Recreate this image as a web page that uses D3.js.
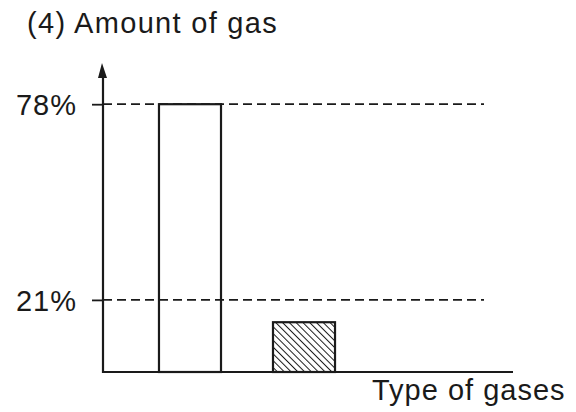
<!DOCTYPE html>
<html>
<head>
<meta charset="utf-8">
<script src="https://cdn.jsdelivr.net/npm/d3@7"></script>
<style>
  body { margin: 0; background: #fff; }
  text { font-family: "Liberation Sans", Arial, sans-serif; fill: #1a1a1a; }
</style>
</head>
<body>
<div id="chart"></div>
<script>
// chart values
const gases = ["Nitrogen", "Oxygen"];
const amounts = [78, 14.5];
const refLevels = [78, 21];
const refLabels = ["78%", "21%"];

const W = 576, H = 412;
const ink = "#1a1a1a";

const svg = d3.select("#chart")
  .append("svg")
  .attr("width", W)
  .attr("height", H);

// hatch pattern for the second bar
svg.append("defs")
  .append("pattern")
  .attr("id", "hatch")
  .attr("patternUnits", "userSpaceOnUse")
  .attr("width", 4.8)
  .attr("height", 4.8)
  .attr("patternTransform", "rotate(-45)")
  .append("line")
  .attr("x1", 0).attr("y1", 0)
  .attr("x2", 0).attr("y2", 4.8)
  .attr("stroke", ink)
  .attr("stroke-width", 2);

const x0 = 103;
const y = d3.scaleLinear().domain([0, 90]).range([372, 63]);

const x = d3.scaleBand()
  .domain(gases)
  .range([x0, x0 + 288])
  .paddingInner(0.456)
  .paddingOuter(0.491);

// title
svg.append("text")
  .attr("x", 27).attr("y", 33)
  .attr("font-size", 29)
  .attr("letter-spacing", 1.3)
  .text("(4) Amount of gas");

// dashed reference lines
svg.append("g")
  .selectAll("line")
  .data(refLevels)
  .join("line")
  .attr("x1", x0).attr("x2", 484)
  .attr("y1", d => y(d)).attr("y2", d => y(d))
  .attr("stroke", ink)
  .attr("stroke-width", 1.8)
  .attr("stroke-dasharray", "9,5");

// y axis with only the two marked levels
const yAxis = svg.append("g")
  .attr("transform", `translate(${x0},0)`)
  .call(d3.axisLeft(y)
    .tickValues(refLevels)
    .tickFormat((d, i) => refLabels[i])
    .tickSize(11)
    .tickSizeOuter(0)
    .tickPadding(15));
yAxis.select(".domain").remove();
yAxis.selectAll("line").attr("stroke", ink).attr("stroke-width", 1.8);
yAxis.selectAll("text")
  .attr("font-size", 29)
  .attr("font-family", "Liberation Sans, Arial, sans-serif")
  .attr("fill", ink)
  .attr("letter-spacing", 1)
  .attr("dy", "0.36em");

// bars
svg.append("g")
  .selectAll("rect")
  .data(gases)
  .join("rect")
  .attr("x", d => x(d))
  .attr("y", (d, i) => y(amounts[i]))
  .attr("width", x.bandwidth())
  .attr("height", (d, i) => y(0) - y(amounts[i]))
  .attr("fill", (d, i) => i === 1 ? "url(#hatch)" : "none")
  .attr("stroke", ink)
  .attr("stroke-width", 2.2);

// vertical axis line with arrow
svg.append("line")
  .attr("x1", x0).attr("x2", x0)
  .attr("y1", y(0) + 1).attr("y2", y(90) + 10)
  .attr("stroke", ink).attr("stroke-width", 2.2);
svg.append("path")
  .attr("d", `M${x0 - 1},${y(90)} L${x0 + 4},${y(90) + 15} L${x0 - 5},${y(90) + 15} Z`)
  .attr("fill", ink);

// horizontal axis line
svg.append("line")
  .attr("x1", x0 - 1).attr("x2", 513)
  .attr("y1", y(0)).attr("y2", y(0))
  .attr("stroke", ink).attr("stroke-width", 2.2);

// x axis title
svg.append("text")
  .attr("x", 372).attr("y", 400)
  .attr("font-size", 29)
  .attr("letter-spacing", 1)
  .text("Type of gases");
</script>
</body>
</html>
